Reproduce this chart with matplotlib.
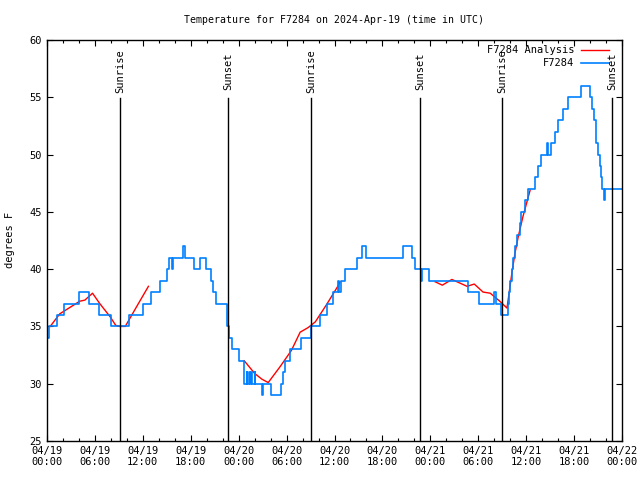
import matplotlib
matplotlib.use("Agg")
import matplotlib.pyplot as plt

plt.rcParams['font.family'] = ['DejaVu Sans Mono']

#  station readings (hours since 04/19 00:00 UTC, degrees F), step changes
obs_hours = [0.1, 0.3, 1.2, 2.1, 4.0, 5.3, 6.5, 8.0, 10.3, 12.0, 13.0, 14.2, 15.0, 15.3,
             15.6, 15.8, 17.0, 17.3, 18.4, 19.2, 19.9, 20.5, 20.8, 21.2, 22.5, 22.6, 22.8,
             23.2, 24.1, 24.7, 25.0, 25.1, 25.3, 25.4, 25.6, 25.7, 26.0, 26.1, 26.9, 27.0,
             28.1, 29.3, 29.5, 29.8, 30.4, 31.8, 33.1, 34.2, 35.0, 35.8, 36.4, 36.6, 36.8,
             37.3, 38.8, 39.5, 39.9, 44.6, 45.7, 46.1, 46.8, 47.0, 47.8, 52.7, 54.1, 56.0,
             56.2, 56.9, 57.7, 57.8, 58.0, 58.2, 58.4, 58.6, 58.8, 59.2, 59.4, 59.9, 60.2,
             61.1, 61.5, 61.9, 62.6, 62.7, 63.1, 63.6, 64.0, 64.6, 65.3, 66.9, 68.0, 68.2,
             68.5, 68.7, 68.8, 69.0, 69.2, 69.4, 69.5, 69.7, 69.9, 72.0]
obs_temps = [34, 35, 36, 37, 38, 37, 36, 35, 36, 37, 38, 39, 40, 41,
             40, 41, 42, 41, 40, 41, 40, 39, 38, 37, 36, 35, 34,
             33, 32, 30, 31, 30, 31, 30, 31, 30, 31, 30, 29, 30,
             29, 30, 31, 32, 33, 34, 35, 36, 37, 38, 39, 38, 39,
             40, 41, 42, 41, 42, 41, 40, 39, 40, 39, 38, 37, 38,
             37, 36, 37, 38, 39, 40, 41, 42, 43, 44, 45, 46, 47,
             48, 49, 50, 51, 50, 51, 52, 53, 54, 55, 56, 55, 54,
             53, 52, 51, 50, 49, 48, 47, 46, 47, 47]

#  analysis curve, three pieces
ana1_hours = [0.4, 1.6, 4.1, 4.75, 5.7, 6.6, 7.9, 8.6, 9.1, 9.8, 11.2, 12.7]
ana1_temps = [35.0, 36.1, 37.2, 37.3, 37.9, 37.0, 35.85, 35.1, 35.0, 35.0, 36.7, 38.5]
ana2_hours = [24.7, 26.0, 26.9, 27.7, 29.2, 30.6, 31.7, 32.7, 33.6, 35.0, 36.5, 36.7]
ana2_temps = [32.0, 30.9, 30.4, 30.1, 31.5, 32.9, 34.5, 34.9, 35.4, 36.9, 38.6, 38.9]
ana3_hours = [48.6, 49.5, 50.7, 52.6, 53.5, 54.6, 55.5, 56.7, 57.6, 58.2, 58.6, 59.0, 59.6, 60.5]
ana3_temps = [38.9, 38.6, 39.1, 38.5, 38.7, 38.0, 37.9, 37.2, 36.6, 39.6, 41.4, 42.8, 44.6, 46.9]

sun_hours = [9.14, 22.67, 33.06, 46.7, 56.97, 70.75]
sun_names = ["Sunrise", "Sunset", "Sunrise", "Sunset", "Sunrise", "Sunset"]

tick_hours = list(range(0, 73, 6))
tick_labels = ["04/19\n00:00", "04/19\n06:00", "04/19\n12:00", "04/19\n18:00",
               "04/20\n00:00", "04/20\n06:00", "04/20\n12:00", "04/20\n18:00",
               "04/21\n00:00", "04/21\n06:00", "04/21\n12:00", "04/21\n18:00",
               "04/22\n00:00"]

red = "#ff0000"
blue = "#0080ff"

fig = plt.figure(figsize=(6.4, 4.8), dpi=100)
ax = fig.add_axes([47 / 640, 39 / 480, 575 / 640, 401 / 480])

for seg_h, seg_t in [(ana1_hours, ana1_temps), (ana2_hours, ana2_temps), (ana3_hours, ana3_temps)]:
    ax.plot(seg_h, seg_t, color=red, lw=1.0)
ax.plot(obs_hours, obs_temps, color=blue, lw=1.2, drawstyle="steps-post")

for h, name in zip(sun_hours, sun_names):
    ax.axvline(h, ymin=0, ymax=0.855, color="black", lw=1.0)
    ax.text(h, 0.923, name, rotation=90, ha="center", va="center", fontsize=7.5,
            transform=ax.get_xaxis_transform())

#  legend, gnuplot style (text first, then sample)
ax.text(0.917, 0.975, "F7284 Analysis", ha="right", va="center", fontsize=7.5, transform=ax.transAxes)
ax.plot([0.9287, 0.978], [0.975, 0.975], color=red, lw=1.0, transform=ax.transAxes)
ax.text(0.917, 0.9426, "F7284", ha="right", va="center", fontsize=7.5, transform=ax.transAxes)
ax.plot([0.9287, 0.978], [0.9426, 0.9426], color=blue, lw=1.2, transform=ax.transAxes)

ax.set_xlim(0, 72)
ax.set_ylim(25, 60)
ax.set_xticks(tick_hours)
ax.set_xticklabels(tick_labels, fontsize=7.5)
ax.set_xticks(range(0, 73, 2), minor=True)
ax.set_yticks(range(25, 61, 5))
ax.tick_params(axis="y", labelsize=7.5)
ax.tick_params(which="major", direction="in", length=4, top=True, right=True, width=0.8)
ax.tick_params(which="minor", direction="in", length=2.2, top=True, right=True, width=0.8)
for s in ax.spines.values():
    s.set_linewidth(1.0)

fig.text(10 / 640, 0.5, "degrees F", rotation=90, ha="center", va="center", fontsize=7.5)
fig.text(0.522, 1 - 20 / 480, "Temperature for F7284 on 2024-Apr-19 (time in UTC)",
         ha="center", va="center", fontsize=7.1)

fig.savefig("out.png", dpi=100)
